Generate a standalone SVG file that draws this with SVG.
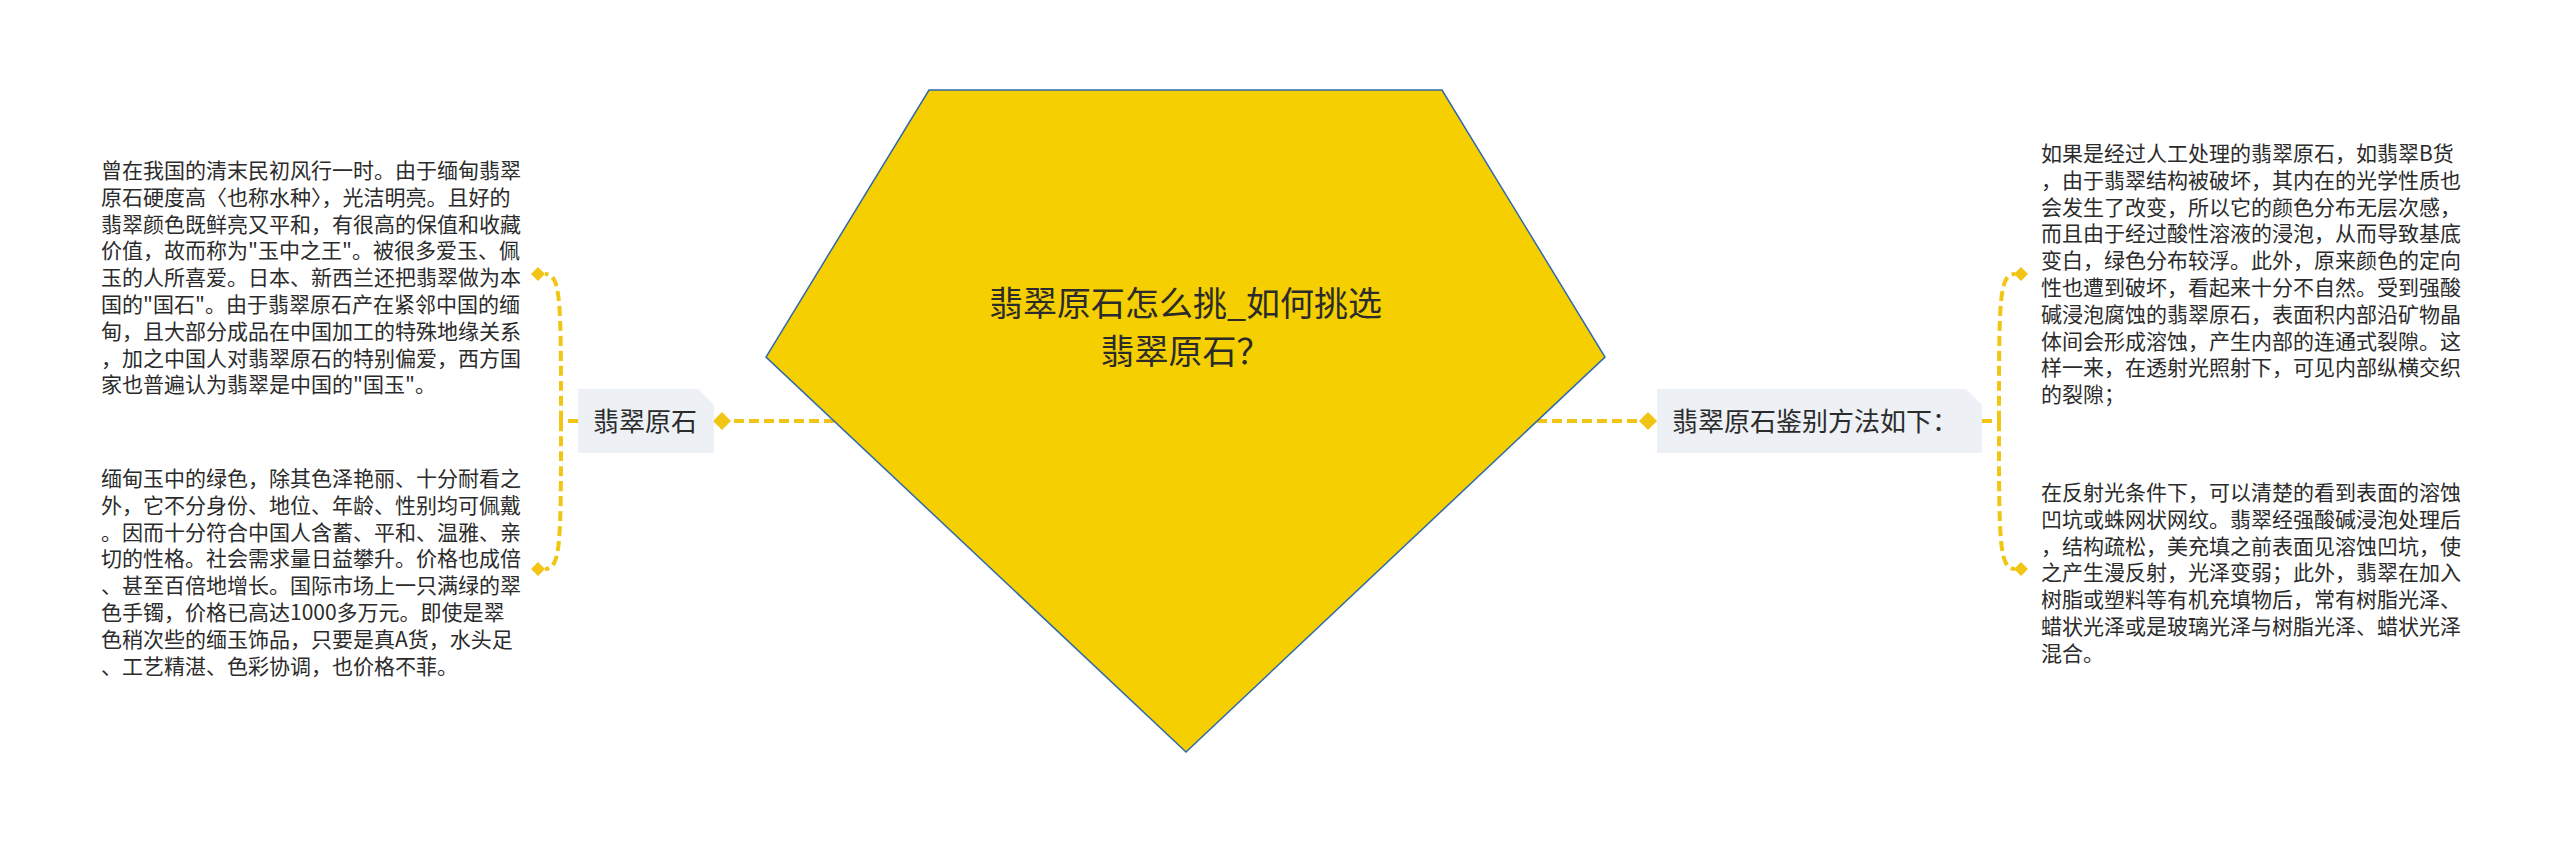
<svg xmlns="http://www.w3.org/2000/svg" width="2560" height="843" viewBox="0 0 2560 843">
<style>
.cn{fill:none;stroke:#f2c515;stroke-width:4;stroke-dasharray:10 5}
.dm{fill:#f2c515}
.box{fill:#edf0f4}
.t{font-family:"Noto Sans CJK SC","Noto Sans",sans-serif;fill:#2b2b2b}
.body{font-size:21px}
.lbl{font-size:26px}
.title{font-size:34px;text-anchor:middle}
</style>
<rect width="2560" height="843" fill="#ffffff"/>
<g id="connectors">
<path class="cn" d="M834 421 L731 421"/>
<path class="cn" d="M1537 421 L1640 421"/>
<path class="cn" d="M578 421 L561 421"/>
<path class="cn" d="M561 421 C561 300 561 274 545 274"/>
<path class="cn" d="M561 421 C561 542 561 569 545 569"/>
<path class="cn" d="M1982 421 L1999 421"/>
<path class="cn" d="M1999 421 C1999 300 1999 274 2015 274"/>
<path class="cn" d="M1999 421 C1999 542 1999 569 2015 569"/>
<path class="dm" d="M722 412 L731 421 L722 430 L713 421 Z"/>
<path class="dm" d="M1648 412 L1657 421 L1648 430 L1639 421 Z"/>
<path class="dm" d="M538 267 L545 274 L538 281 L531 274 Z"/>
<path class="dm" d="M538 562 L545 569 L538 576 L531 569 Z"/>
<path class="dm" d="M2021 267 L2028 274 L2021 281 L2014 274 Z"/>
<path class="dm" d="M2021 562 L2028 569 L2021 576 L2014 569 Z"/>
</g>
<g id="root">
<polygon points="929,90 1442,90 1605,357 1186,752 766,357" fill="#f5cf00" stroke="#2f69ad" stroke-width="1.5"/>
<text class="t title" x="1185.5" y="316">翡翠原石怎么挑_如何挑选</text>
<text class="t title" x="1185.5" y="364">翡翠原石？</text>
</g>
<g id="node-left">
<path class="box" d="M578 389 L698 389 L714 405 L714 453 L578 453 Z"/>
<text class="t lbl" x="593" y="431">翡翠原石</text>
</g>
<g id="node-right">
<path class="box" d="M1657 389 L1966 389 L1982 405 L1982 453 L1657 453 Z"/>
<text class="t lbl" x="1672" y="431">翡翠原石鉴别方法如下：</text>
</g>
<g id="leaf-left-1">
<text class="t body">
<tspan x="101" y="178">曾在我国的清末民初风行一时。由于缅甸翡翠</tspan>
<tspan x="101" y="204.8">原石硬度高〈也称水种〉，光洁明亮。且好的</tspan>
<tspan x="101" y="231.6">翡翠颜色既鲜亮又平和，有很高的保值和收藏</tspan>
<tspan x="101" y="258.4">价值，故而称为"玉中之王"。被很多爱玉、佩</tspan>
<tspan x="101" y="285.2">玉的人所喜爱。日本、新西兰还把翡翠做为本</tspan>
<tspan x="101" y="312">国的"国石"。由于翡翠原石产在紧邻中国的缅</tspan>
<tspan x="101" y="338.8">甸，且大部分成品在中国加工的特殊地缘关系</tspan>
<tspan x="101" y="365.6">，加之中国人对翡翠原石的特别偏爱，西方国</tspan>
<tspan x="101" y="392.4">家也普遍认为翡翠是中国的"国玉"。</tspan>
</text>
</g>
<g id="leaf-left-2">
<text class="t body">
<tspan x="101" y="486">缅甸玉中的绿色，除其色泽艳丽、十分耐看之</tspan>
<tspan x="101" y="512.8">外，它不分身份、地位、年龄、性别均可佩戴</tspan>
<tspan x="101" y="539.6">。因而十分符合中国人含蓄、平和、温雅、亲</tspan>
<tspan x="101" y="566.4">切的性格。社会需求量日益攀升。价格也成倍</tspan>
<tspan x="101" y="593.2">、甚至百倍地增长。国际市场上一只满绿的翠</tspan>
<tspan x="101" y="620">色手镯，价格已高达1000多万元。即使是翠</tspan>
<tspan x="101" y="646.8">色稍次些的缅玉饰品，只要是真A货，水头足</tspan>
<tspan x="101" y="673.6">、工艺精湛、色彩协调，也价格不菲。</tspan>
</text>
</g>
<g id="leaf-right-1">
<text class="t body">
<tspan x="2041" y="161">如果是经过人工处理的翡翠原石，如翡翠B货</tspan>
<tspan x="2041" y="187.8">，由于翡翠结构被破坏，其内在的光学性质也</tspan>
<tspan x="2041" y="214.6">会发生了改变，所以它的颜色分布无层次感，</tspan>
<tspan x="2041" y="241.4">而且由于经过酸性溶液的浸泡，从而导致基底</tspan>
<tspan x="2041" y="268.2">变白，绿色分布较浮。此外，原来颜色的定向</tspan>
<tspan x="2041" y="295">性也遭到破坏，看起来十分不自然。受到强酸</tspan>
<tspan x="2041" y="321.8">碱浸泡腐蚀的翡翠原石，表面积内部沿矿物晶</tspan>
<tspan x="2041" y="348.6">体间会形成溶蚀，产生内部的连通式裂隙。这</tspan>
<tspan x="2041" y="375.4">样一来，在透射光照射下，可见内部纵横交织</tspan>
<tspan x="2041" y="402.2">的裂隙；</tspan>
</text>
</g>
<g id="leaf-right-2">
<text class="t body">
<tspan x="2041" y="500">在反射光条件下，可以清楚的看到表面的溶蚀</tspan>
<tspan x="2041" y="526.8">凹坑或蛛网状网纹。翡翠经强酸碱浸泡处理后</tspan>
<tspan x="2041" y="553.6">，结构疏松，美充填之前表面见溶蚀凹坑，使</tspan>
<tspan x="2041" y="580.4">之产生漫反射，光泽变弱；此外，翡翠在加入</tspan>
<tspan x="2041" y="607.2">树脂或塑料等有机充填物后，常有树脂光泽、</tspan>
<tspan x="2041" y="634">蜡状光泽或是玻璃光泽与树脂光泽、蜡状光泽</tspan>
<tspan x="2041" y="660.8">混合。</tspan>
</text>
</g>
</svg>
